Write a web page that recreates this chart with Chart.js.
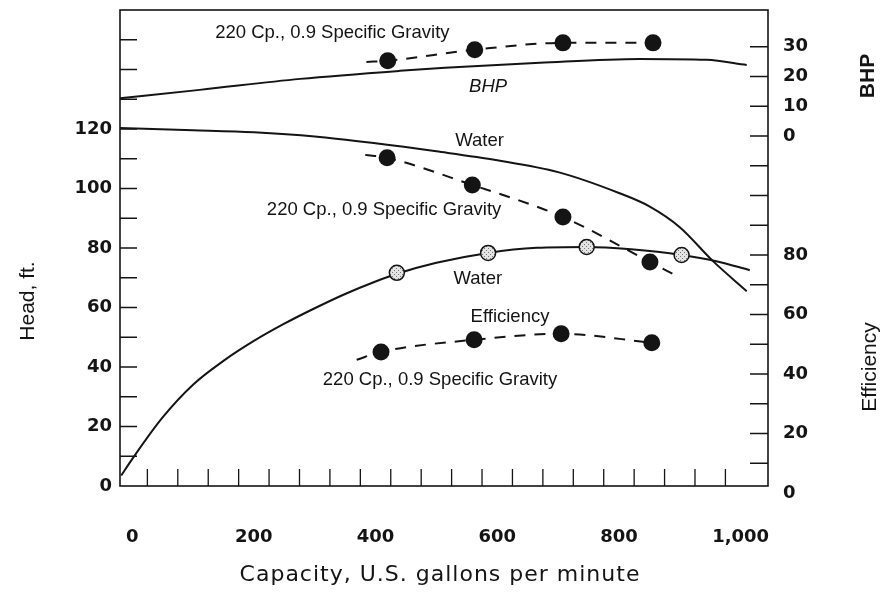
<!DOCTYPE html>
<html>
<head>
<meta charset="utf-8">
<title>Pump performance, water vs 220 Cp oil</title>
<script src="https://cdn.jsdelivr.net/npm/chart.js@4.4.1/dist/chart.umd.min.js"></script>
<style>
  html, body { margin: 0; padding: 0; background: #fff; }
  #wrap { position: relative; width: 883px; height: 601px; }
</style>
</head>
<body>
<div id="wrap"><canvas id="chart"></canvas></div>
<script>
// capacity axis labels (U.S. gpm)
const capacityTicks = [0, 200, 400, 600, 800, 1000]

// head, water (solid curve)
const headWaterCap = [-20, 100, 200, 300, 400, 500, 600, 700, 800, 850, 900, 955, 1010]
const headWaterFt = [120.3, 119.6, 118.9, 117.5, 115.2, 112.5, 109.5, 105.5, 98.5, 94, 87, 75.5, 65.5]

// head, 220 Cp oil: test points and dashed trend
const headOilCap = [419, 559, 708, 851]
const headOilFt = [110.3, 101.2, 90.4, 75.3]
const headOilTrendCap = [383, 419, 559, 708, 851, 892]
const headOilTrendFt = [111.3, 110.3, 101.2, 90.4, 75.3, 70.9]

// efficiency %, water (solid curve + test points), read on the right scale
const effWaterCap = [-18, 0, 50, 100, 150, 200, 250, 300, 350, 400, 435, 500, 585, 665, 747, 820, 903, 960, 1015]
const effWaterPct = [5.9, 11.4, 25.4, 36.4, 44.4, 51.1, 56.9, 62.1, 66.9, 71.1, 73.7, 77.4, 80.7, 82.4, 82.7, 81.9, 80, 77.9, 74.9]
const effWaterTestCap = [435, 585, 747, 903]
const effWaterTestPct = [74, 80.7, 82.7, 80]

// efficiency %, 220 Cp oil
const effOilCap = [409, 562, 705, 854]
const effOilPct = [47.4, 51.5, 53.5, 50.5]
const effOilTrendCap = [369, 409, 562, 705, 854]
const effOilTrendPct = [44.8, 47.4, 51.5, 53.5, 50.5]

// brake horsepower, water
const bhpWaterCap = [-20, 111, 276, 440, 514, 670, 834, 944, 1010]
const bhpWaterHp = [12.7, 15.5, 19.2, 21.9, 22.9, 24.6, 25.9, 25.6, 23.9]

// brake horsepower, 220 Cp oil
const bhpOilCap = [420, 563, 708, 856]
const bhpOilHp = [25.3, 29, 31.3, 31.3]
const bhpOilTrendCap = [385, 420, 563, 708, 856]
const bhpOilTrendHp = [24.9, 25.3, 29, 31.3, 31.3]

// curve labels inside the plot, anchored in capacity / head units
const notes = [
  { text: '220 Cp., 0.9 Specific Gravity', cap: 329, head: 152.3 },
  { text: 'BHP', cap: 585, head: 134.1, italic: true },
  { text: 'Water', cap: 571, head: 116 },
  { text: '220 Cp., 0.9 Specific Gravity', cap: 414, head: 92.8 },
  { text: 'Water', cap: 568, head: 69.6 },
  { text: 'Efficiency', cap: 621, head: 56.8 },
  { text: '220 Cp., 0.9 Specific Gravity', cap: 506, head: 35.6 }
]

// right-hand scales sit a little lower than the head scale in the original
const effRange = { min: 2.35, max: 162.35 }
const bhpRange = { min: -117.65, max: 42.35 }
const rightTicks = [0, 10, 20, 30, 40, 50, 60, 70, 80, 90, 100, 110, 120, 130, 140, 150]

const ink = '#141414'
const tickFont = { family: "'DejaVu Sans', sans-serif", size: 18, weight: 'bold' }

const pts = (xs, ys) => xs.map((x, i) => ({ x, y: ys[i] }))

const stipple = () => {
  const c = document.createElement('canvas')
  c.width = c.height = 4
  const g = c.getContext('2d')
  g.fillStyle = '#e4e4e4'
  g.fillRect(0, 0, 4, 4)
  g.fillStyle = '#777'
  g.fillRect(0, 0, 1, 1)
  g.fillRect(2, 2, 1, 1)
  return g.createPattern(c, 'repeat')
}

const solid = (data, axis) => ({
  data, yAxisID: axis, borderColor: ink, borderWidth: 2,
  pointRadius: 0, cubicInterpolationMode: 'monotone', order: 2
})
const dashed = (data, axis) => ({
  data, yAxisID: axis, borderColor: ink, borderWidth: 2, borderDash: [11, 9],
  pointRadius: 0, cubicInterpolationMode: 'monotone', order: 1
})
const dots = (data, axis) => ({
  data, yAxisID: axis, showLine: false, pointRadius: 8.5,
  pointBackgroundColor: ink, pointBorderWidth: 0, order: 0
})

// keep the plot box fixed: no extra label padding from the axes
const fixWidth = w => scale => {
  scale.width = w
  scale.paddingTop = 0
  scale.paddingBottom = 0
}
const fixHeight = h => scale => {
  scale.height = h
  scale.paddingLeft = 0
  scale.paddingRight = 0
}

// frame and inward tick marks
const frameTicks = {
  id: 'frameTicks',
  beforeDatasetsDraw(chart) {
    const { ctx, chartArea: a, scales } = chart
    ctx.save()
    ctx.strokeStyle = ink
    ctx.lineWidth = 1.6
    ctx.strokeRect(a.left, a.top, a.right - a.left, a.bottom - a.top)
    ctx.lineWidth = 1.3
    ctx.beginPath()
    scales.y.ticks.forEach(t => {
      const y = scales.y.getPixelForValue(t.value)
      if (y > a.top + 2 && y < a.bottom - 2) { ctx.moveTo(a.left, y); ctx.lineTo(a.left + 17, y) }
    })
    scales.yEff.ticks.forEach(t => {
      const y = scales.yEff.getPixelForValue(t.value)
      if (y > a.top + 2 && y < a.bottom - 2) { ctx.moveTo(a.right, y); ctx.lineTo(a.right - 18, y) }
    })
    for (let v = 25; v < 1000; v += 50) {
      const x = scales.x.getPixelForValue(v)
      ctx.moveTo(x, a.bottom); ctx.lineTo(x, a.bottom - 17)
    }
    ctx.stroke()
    ctx.restore()
  }
}

// curve labels and axis titles
const texts = {
  id: 'texts',
  afterDatasetsDraw(chart) {
    const { ctx, chartArea: a, scales } = chart
    ctx.save()
    ctx.fillStyle = ink
    ctx.textAlign = 'center'
    ctx.textBaseline = 'middle'
    notes.forEach(n => {
      ctx.font = `${n.italic ? 'italic ' : ''}18.5px 'Liberation Sans', Arial, sans-serif`
      ctx.fillText(n.text, scales.x.getPixelForValue(n.cap), scales.y.getPixelForValue(n.head))
    })

    ctx.font = "22px 'DejaVu Sans', sans-serif"
    ctx.letterSpacing = '1px'
    ctx.fillText('Capacity, U.S. gallons per minute', (a.left + a.right) / 2 - 4, 575)
    ctx.letterSpacing = '0px'

    const vertical = (text, x, y, font) => {
      ctx.save()
      ctx.translate(x, y)
      ctx.rotate(-Math.PI / 2)
      ctx.font = font
      ctx.fillText(text, 0, 0)
      ctx.restore()
    }
    vertical('Head, ft.', 28, 301, "21px 'Liberation Sans', Arial, sans-serif")
    vertical('Efficiency', 870, 367, "21px 'Liberation Sans', Arial, sans-serif")
    vertical('BHP', 868, 76, "bold 21px 'Liberation Sans', Arial, sans-serif")
    ctx.restore()
  }
}

new Chart(document.getElementById('chart'), {
  type: 'line',
  data: {
    datasets: [
      solid(pts(headWaterCap, headWaterFt), 'y'),
      dashed(pts(headOilTrendCap, headOilTrendFt), 'y'),
      dots(pts(headOilCap, headOilFt), 'y'),
      solid(pts(effWaterCap, effWaterPct), 'yEff'),
      {
        data: pts(effWaterTestCap, effWaterTestPct), yAxisID: 'yEff', showLine: false,
        pointRadius: 7.5, pointBackgroundColor: stipple(), pointBorderColor: ink,
        pointBorderWidth: 1.5, order: 0
      },
      dashed(pts(effOilTrendCap, effOilTrendPct), 'yEff'),
      dots(pts(effOilCap, effOilPct), 'yEff'),
      solid(pts(bhpWaterCap, bhpWaterHp), 'yBhp'),
      dashed(pts(bhpOilTrendCap, bhpOilTrendHp), 'yBhp'),
      dots(pts(bhpOilCap, bhpOilHp), 'yBhp')
    ]
  },
  options: {
    responsive: true,
    maintainAspectRatio: false,
    animation: false,
    layout: { padding: { top: 10, left: 0, right: 0, bottom: 0 } },
    plugins: { legend: { display: false }, tooltip: { enabled: false } },
    scales: {
      x: {
        type: 'linear',
        min: -20,
        max: 1045,
        grid: { display: false, drawTicks: false },
        border: { display: false },
        afterBuildTicks: scale => { scale.ticks = capacityTicks.map(value => ({ value })) },
        afterFit: fixHeight(115),
        ticks: {
          color: ink,
          font: tickFont,
          padding: 41,
          autoSkip: false,
          maxRotation: 0,
          callback: v => v.toLocaleString('en-US')
        }
      },
      y: {
        position: 'left',
        min: 0,
        max: 160,
        grid: { display: false, drawTicks: false },
        border: { display: false },
        afterFit: fixWidth(120),
        ticks: {
          stepSize: 10,
          color: ink,
          font: tickFont,
          padding: 8,
          autoSkip: false,
          callback: v => (v <= 120 && v % 20 === 0 ? String(v) : '')
        }
      },
      yEff: {
        position: 'right',
        min: effRange.min,
        max: effRange.max,
        grid: { display: false, drawTicks: false },
        border: { display: false },
        afterBuildTicks: scale => { scale.ticks = rightTicks.map(value => ({ value })) },
        afterFit: fixWidth(115),
        ticks: {
          color: ink,
          font: tickFont,
          padding: 15,
          autoSkip: false,
          callback: v => {
            if (v <= 80) return v % 20 === 0 ? String(v) : ''
            const hp = Math.round(bhpRange.min + (v - effRange.min) * (bhpRange.max - bhpRange.min) / (effRange.max - effRange.min))
            return hp >= 0 && hp <= 30 && hp % 10 === 0 ? String(hp) : ''
          }
        }
      },
      yBhp: {
        display: false,
        position: 'right',
        min: bhpRange.min,
        max: bhpRange.max,
        afterFit: fixWidth(0)
      }
    }
  },
  plugins: [frameTicks, texts]
})
</script>
</body>
</html>
